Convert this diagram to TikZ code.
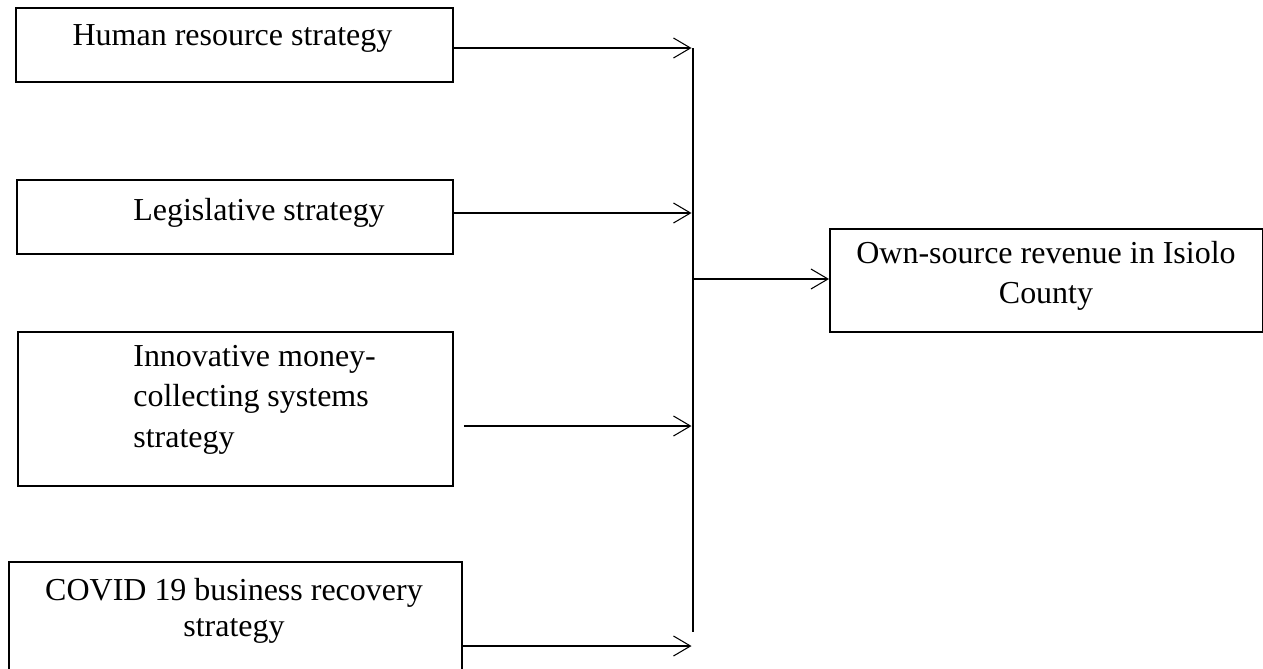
\documentclass[tikz,border=0pt]{standalone}
\usepackage{fontspec}
\setmainfont{Liberation Serif}
\usepackage{tikz}
\usetikzlibrary{arrows.meta, positioning}
\tikzset{
  stratbox/.style={rectangle, draw=black, line width=1.1pt, inner sep=0pt,
    anchor=north west},
  lbl/.style={inner sep=0pt, text=black, font=\fontsize{18.2}{23}\selectfont},
  arr/.style={-{Straight Barb[length=0.34cm, width=0.40cm]}, line width=0.6pt},
}

\begin{document}
\begin{tikzpicture}
  \useasboundingbox (0,0) rectangle (25.26,-13.36);
  % strategies
  \node[stratbox, minimum width=8.74cm, minimum height=1.48cm] (hr) at (0.30,-0.14) {};
  \node[lbl, anchor=base] (hrtxt) at (4.65,-0.90) {Human resource strategy};
  \node[stratbox, minimum width=8.72cm, minimum height=1.48cm] (leg) at (0.32,-3.58) {};
  \node[lbl, anchor=base west] (legtxt) at (2.66,-4.40) {Legislative strategy};
  \node[stratbox, minimum width=8.70cm, minimum height=3.08cm] (inn) at (0.34,-6.62) {};
  \node[lbl, anchor=north west, align=left] (inntxt) at (2.66,-6.90)
    {Innovative money-\\collecting systems\\strategy};
  \node[stratbox, minimum width=9.06cm, minimum height=2.60cm] (cov) at (0.16,-11.22) {};
  \node[lbl, anchor=north, align=center, font=\fontsize{18.2}{20.5}\selectfont] (covtxt)
    at (4.68,-11.56) {COVID 19 business recovery\\strategy};
  % revenue
  \node[stratbox, minimum width=8.66cm, minimum height=2.06cm] (own) at (16.58,-4.56) {};
  \node[lbl, anchor=north, align=center] (owntxt) at (20.92,-4.82)
    {Own-source revenue in Isiolo\\County};
  % collector
  \coordinate (top) at (13.86,-0.96);
  \coordinate (bot) at (13.86,-12.64);
  \coordinate (j1) at (13.83,-0.96);
  \coordinate (j2) at (13.83,-4.26);
  \coordinate (j3) at (13.83,-8.52);
  \coordinate (j4) at (13.83,-12.92);
  \coordinate (jo) at (13.86,-5.58);
  \draw[line width=0.6pt] (top) -- (bot);
  \draw[arr] (hr.east |- j1) -- (j1);
  \draw[arr] (leg.east |- j2) -- (j2);
  \draw[arr] ([xshift=0.2cm]inn.east |- j3) -- (j3);
  \draw[arr] (cov.east |- j4) -- (j4);
  \draw[arr] (jo) -- (own.west |- jo);
\end{tikzpicture}
\end{document}
